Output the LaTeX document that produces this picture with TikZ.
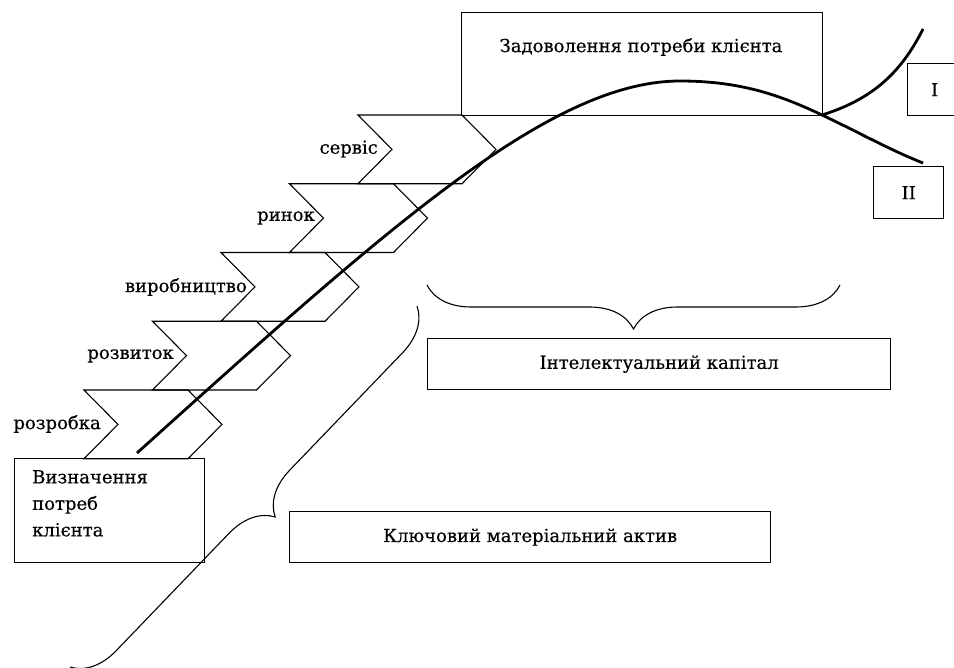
\documentclass[tikz,border=0pt]{standalone}
\usepackage{fontspec}
\setmainfont{DejaVu Serif}[FakeBold=0.4]
\usetikzlibrary{positioning,decorations.pathreplacing}

\begin{document}
\begin{tikzpicture}
[x=1pt,y=-1pt,
 stage/.style={draw=black,line width=1.1pt},
 box/.style={draw=black,line width=1.3pt,inner sep=0pt,font=\fontsize{18}{21}\selectfont},
 lbl/.style={anchor=east,inner sep=0pt,font=\fontsize{18}{21}\selectfont},
 brc/.style={decorate,decoration={brace,amplitude=44pt},line width=1.1pt},
 wave/.style={line width=2.8pt}]
\useasboundingbox (0,0) rectangle (954,668);

% boxes
\node[box,anchor=north west,minimum width=361pt,minimum height=103pt] (need) at (461,12) {};
\node[lbl,anchor=center] (needtext) at (641,47) {Задоволення потреби клієнта};
\node[box,anchor=north west,minimum width=190pt,minimum height=104pt] (define) at (14,458) {};
\node[lbl,anchor=north west,align=left,font=\fontsize{18}{26.5}\selectfont] (definetext) at (32,470) {Визначення\\потреб\\клієнта};
\node[box,anchor=north west,minimum width=481pt,minimum height=51pt] (asset) at (289,511) {Ключовий матеріальний актив};
\node[box,anchor=north west,minimum width=463pt,minimum height=51pt] (capital) at (427,338) {Інтелектуальний капітал};
\node[box,anchor=north west,minimum width=54pt,minimum height=52pt] (one) at (907,63) {I};
\node[box,anchor=north west,minimum width=70pt,minimum height=52pt] (two) at (873,166) {II};

% stages
\draw[stage] (84,390) -- ++(104,0) -- ++(34,34.375) -- ++(-34,34.375) -- ++(-104,0) -- ++(34,-34.375) -- cycle;
\draw[stage] (152.5,321.25) -- ++(104,0) -- ++(34,34.375) -- ++(-34,34.375) -- ++(-104,0) -- ++(34,-34.375) -- cycle;
\draw[stage] (221,252.5) -- ++(104,0) -- ++(34,34.375) -- ++(-34,34.375) -- ++(-104,0) -- ++(34,-34.375) -- cycle;
\draw[stage] (289.5,183.75) -- ++(104,0) -- ++(34,34.375) -- ++(-34,34.375) -- ++(-104,0) -- ++(34,-34.375) -- cycle;
\draw[stage] (358,115) -- ++(104,0) -- ++(34,34.375) -- ++(-34,34.375) -- ++(-104,0) -- ++(34,-34.375) -- cycle;

\node[lbl] (s1) at (101,424) {розробка};
\node[lbl] (s2) at (174,356) {розвиток};
\node[lbl] (s3) at (247,287) {виробництво};
\node[lbl] (s4) at (315,218) {ринок};
\node[lbl] (s5) at (378,149) {сервіс};

% life curve
\draw[wave] (137,453) .. controls (387,228) and (550,81) .. (680,81)
  .. controls (740,81) and (780,95) .. (822,115) coordinate (fork);
\draw[wave] (fork) .. controls (870,100) and (900,75) .. (923,29);
\draw[wave] (fork) .. controls (860,133) and (890,150) .. (923,163);

% braces
\draw[brc] (840,285) -- (427,285);
\draw[brc] (417,306) -- (70,667);
\end{tikzpicture}
\end{document}
